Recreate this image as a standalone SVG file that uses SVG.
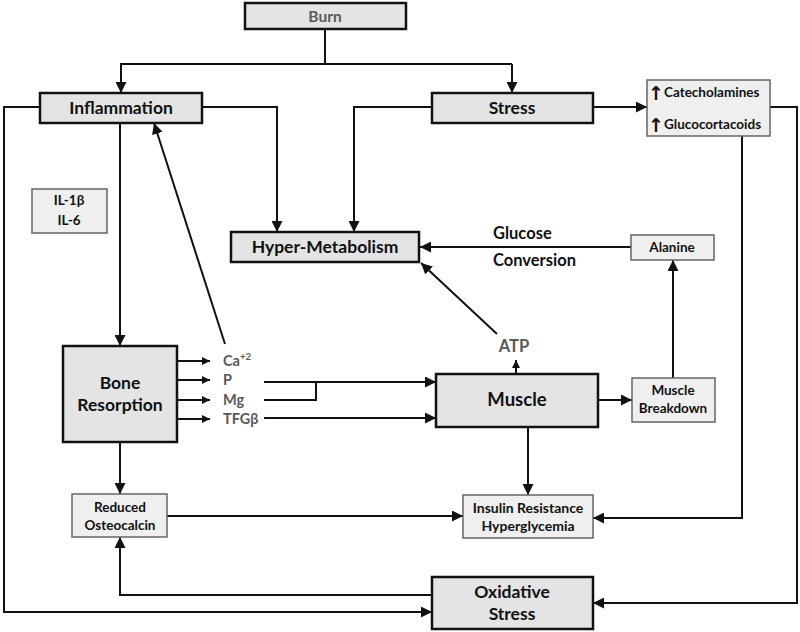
<svg xmlns="http://www.w3.org/2000/svg" width="800" height="632" viewBox="0 0 800 632">
<defs>
<style>
.main{fill:#e4e4e4;stroke:#111;stroke-width:2.5}
.small{fill:#efefef;stroke:#666;stroke-width:1.5}
.t{font-family:Lato,"Liberation Sans",sans-serif;font-weight:bold;text-anchor:middle;fill:#111}
.s{text-anchor:start}
.g{fill:#595959}
.up{font-family:"DejaVu Sans",sans-serif;font-weight:bold;font-size:19px;fill:#111;text-anchor:middle}
.c{fill:none;stroke:#111;stroke-width:2}
.a{marker-end:url(#ah)}
.as{marker-end:url(#ahs)}
</style>
<marker id="ah" markerUnits="userSpaceOnUse" markerWidth="11" markerHeight="11" refX="10" refY="5" orient="auto" viewBox="0 0 10 10"><path d="M0,0 L10,5 L0,10 z" fill="#111"/></marker>
<marker id="ahs" markerUnits="userSpaceOnUse" markerWidth="8" markerHeight="8" refX="10" refY="5" orient="auto" viewBox="0 0 10 10"><path d="M0,0 L10,5 L0,10 z" fill="#111"/></marker>
</defs>
<rect width="800" height="632" fill="#fff"/>
<g id="connectors">
<path class="c" d="M325,29 V64 H512"/>
<path class="c a" d="M325,64 H121 V93"/>
<path class="c a" d="M512,64 V93"/>
<path class="c a" d="M40,107 H4 V612 H432"/>
<path class="c a" d="M202,107 H277 V232"/>
<path class="c a" d="M432,107 H354 V232"/>
<path class="c a" d="M593,107 H647"/>
<path class="c a" d="M770,107 H797 V603 H593"/>
<path class="c a" d="M742,136 V518 H593"/>
<path class="c a" d="M120,124 V346"/>
<path class="c a" d="M225,344 L154,123"/>
<path class="c as" d="M177,361 H210"/>
<path class="c as" d="M177,380 H210"/>
<path class="c as" d="M177,400 H210"/>
<path class="c as" d="M177,419 H210"/>
<path class="c a" d="M264,382 H436"/>
<path class="c" d="M264,400 H316 V382"/>
<path class="c a" d="M264,418 H436"/>
<path class="c as" d="M516,374 V360"/>
<path class="c a" d="M497,334 L421,263"/>
<path class="c a" d="M631,247 H420"/>
<path class="c a" d="M598,400 H632"/>
<path class="c a" d="M673,378 V260"/>
<path class="c a" d="M528,427 V495"/>
<path class="c a" d="M120,442 V494"/>
<path class="c a" d="M167,516 H463"/>
<path class="c a" d="M432,595 H120 V537"/>
</g>
<g id="burn"><rect class="main" x="245" y="3" width="161" height="26"/><text class="t g" x="325" y="22" font-size="15.5">Burn</text></g>
<g id="inflammation"><rect class="main" x="40" y="93" width="162" height="30"/><text class="t" x="121" y="114" font-size="17.5">Inflammation</text></g>
<g id="stress"><rect class="main" x="432" y="93" width="161" height="30"/><text class="t" x="512" y="114" font-size="17.5">Stress</text></g>
<g id="hormones"><rect class="small" x="647" y="80" width="123" height="56"/>
<text class="up" x="656" y="100">↑</text>
<text class="t s" x="664" y="97" font-size="13.5">Catecholamines</text>
<text class="up" x="656" y="132">↑</text>
<text class="t s" x="664" y="129" font-size="13.5">Glucocortacoids</text></g>
<g id="cytokines"><rect class="small" x="32" y="189" width="75" height="44"/><text class="t" x="69" y="205" font-size="13.5">IL-1β</text><text class="t" x="69" y="225" font-size="13.5">IL-6</text></g>
<g id="hypermetabolism"><rect class="main" x="231" y="232" width="188" height="30"/><text class="t" x="325" y="253" font-size="17.5">Hyper-Metabolism</text></g>
<g id="glucose-label"><text class="t s" x="493" y="239" font-size="16.5">Glucose</text><text class="t s" x="493" y="266" font-size="16.5">Conversion</text></g>
<g id="alanine"><rect class="small" x="631" y="235" width="83" height="25"/><text class="t" x="672" y="252" font-size="13.5">Alanine</text></g>
<g id="bone"><rect class="main" x="63" y="346" width="114" height="96"/><text class="t" x="120" y="389" font-size="17.5">Bone</text><text class="t" x="120" y="411" font-size="17.5">Resorption</text></g>
<g id="minerals">
<text class="t g s" x="223" y="366" font-size="14.5">Ca<tspan font-size="9.5" dy="-6">+2</tspan></text>
<text class="t g s" x="223" y="385" font-size="14.5">P</text>
<text class="t g s" x="223" y="405" font-size="14.5">Mg</text>
<text class="t g s" x="223" y="424" font-size="14.5">TFGβ</text>
</g>
<g id="atp"><text class="t g" x="514" y="352" font-size="16.5">ATP</text></g>
<g id="muscle"><rect class="main" x="436" y="374" width="162" height="53"/><text class="t" x="517" y="406" font-size="18.5">Muscle</text></g>
<g id="breakdown"><rect class="small" x="632" y="378" width="83" height="44"/><text class="t" x="673" y="395" font-size="13.5">Muscle</text><text class="t" x="673" y="413" font-size="13.5">Breakdown</text></g>
<g id="osteocalcin"><rect class="small" x="72" y="494" width="95" height="43"/><text class="t" x="120" y="512" font-size="13.5">Reduced</text><text class="t" x="120" y="530" font-size="13.5">Osteocalcin</text></g>
<g id="insulin"><rect class="small" x="463" y="495" width="130" height="43"/><text class="t" x="528" y="513" font-size="14">Insulin Resistance</text><text class="t" x="528" y="531" font-size="14">Hyperglycemia</text></g>
<g id="oxidative"><rect class="main" x="432" y="577" width="161" height="52"/><text class="t" x="512" y="598" font-size="17.5">Oxidative</text><text class="t" x="512" y="620" font-size="17.5">Stress</text></g>
</svg>
